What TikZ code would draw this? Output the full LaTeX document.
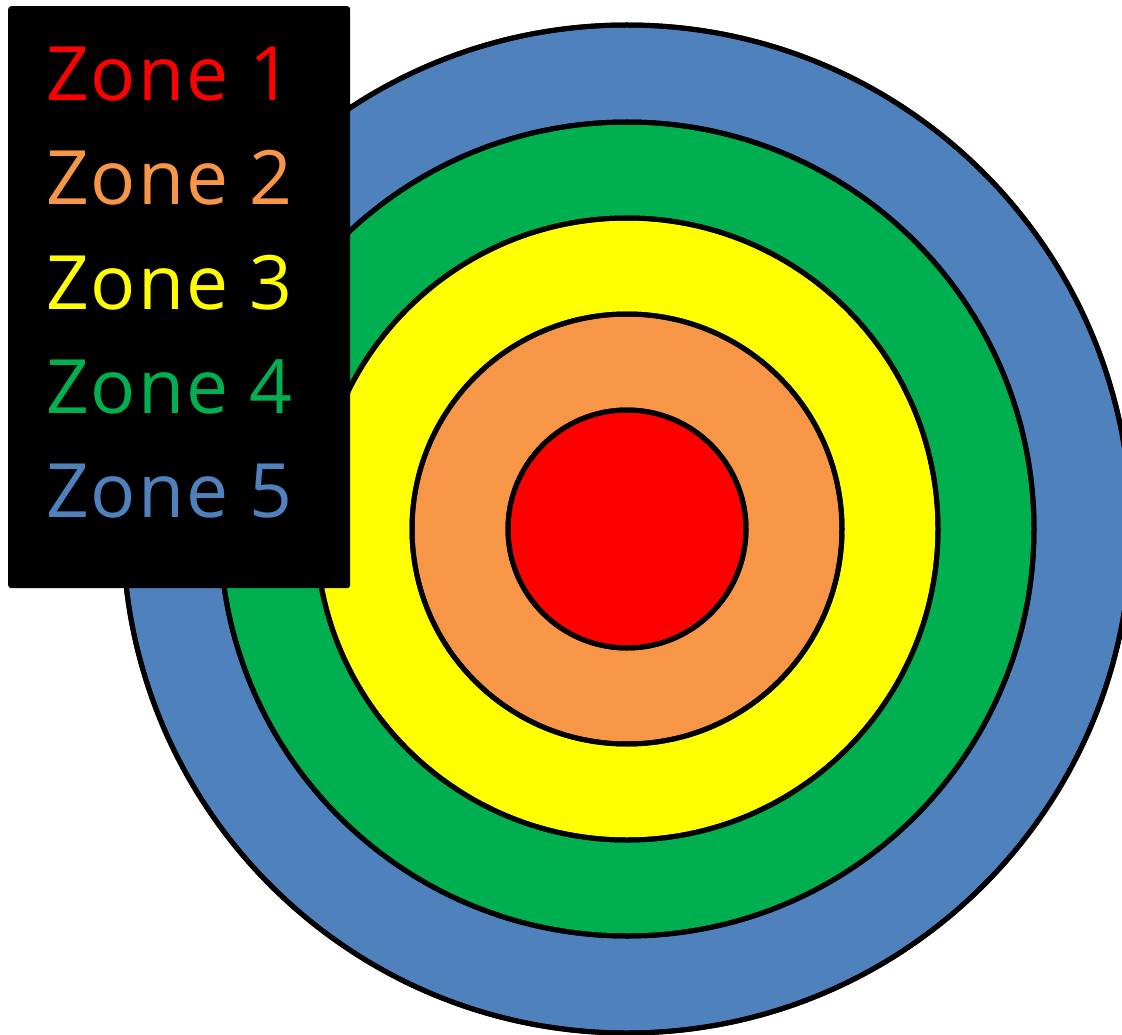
\documentclass[tikz,border=0pt]{standalone}
\usepackage{fontspec}
\setmainfont{Open Sans}[LetterSpace=2.5]
\definecolor{zblue}{HTML}{4F81BD}
\definecolor{zgreen}{HTML}{00B050}
\definecolor{zyellow}{HTML}{FFFF00}
\definecolor{zorange}{HTML}{F79646}
\definecolor{zred}{HTML}{FF0000}
\begin{document}
\begin{tikzpicture}[x=1pt,y=-1pt,
  ring/.style={draw=black,line width=5pt},
  zlabel/.style={anchor=base west,inner sep=0pt,font=\fontsize{75}{90}\selectfont}]
\useasboundingbox (0,0) rectangle (1122,1035);
\begin{scope}
\clip (0,0) rectangle (1122,1035);
\fill[ring,fill=zblue] (627,529) circle (504);
\fill[ring,fill=zgreen] (627,529) circle (407);
\fill[ring,fill=zyellow] (627,529) circle (311);
\fill[ring,fill=zorange] (627,529) circle (215);
\fill[ring,fill=zred] (627,529) circle (119);
\draw[ring] (627,529) circle (504);
\draw[ring] (627,529) circle (407);
\draw[ring] (627,529) circle (311);
\draw[ring] (627,529) circle (215);
\draw[ring] (627,529) circle (119);
\end{scope}
\node[fill=black,rounded corners=3pt,minimum width=342pt,minimum height=582pt,anchor=north west,inner sep=0pt] (legend) at (8,6) {};
\node[zlabel,text=zred] (z1) at (46,101) {Zone 1};
\node[zlabel,text=zorange] (z2) at (46,205) {Zone 2};
\node[zlabel,text=zyellow] (z3) at (46,309) {Zone 3};
\node[zlabel,text=zgreen] (z4) at (46,413) {Zone 4};
\node[zlabel,text=zblue] (z5) at (46,517) {Zone 5};
\end{tikzpicture}
\end{document}
